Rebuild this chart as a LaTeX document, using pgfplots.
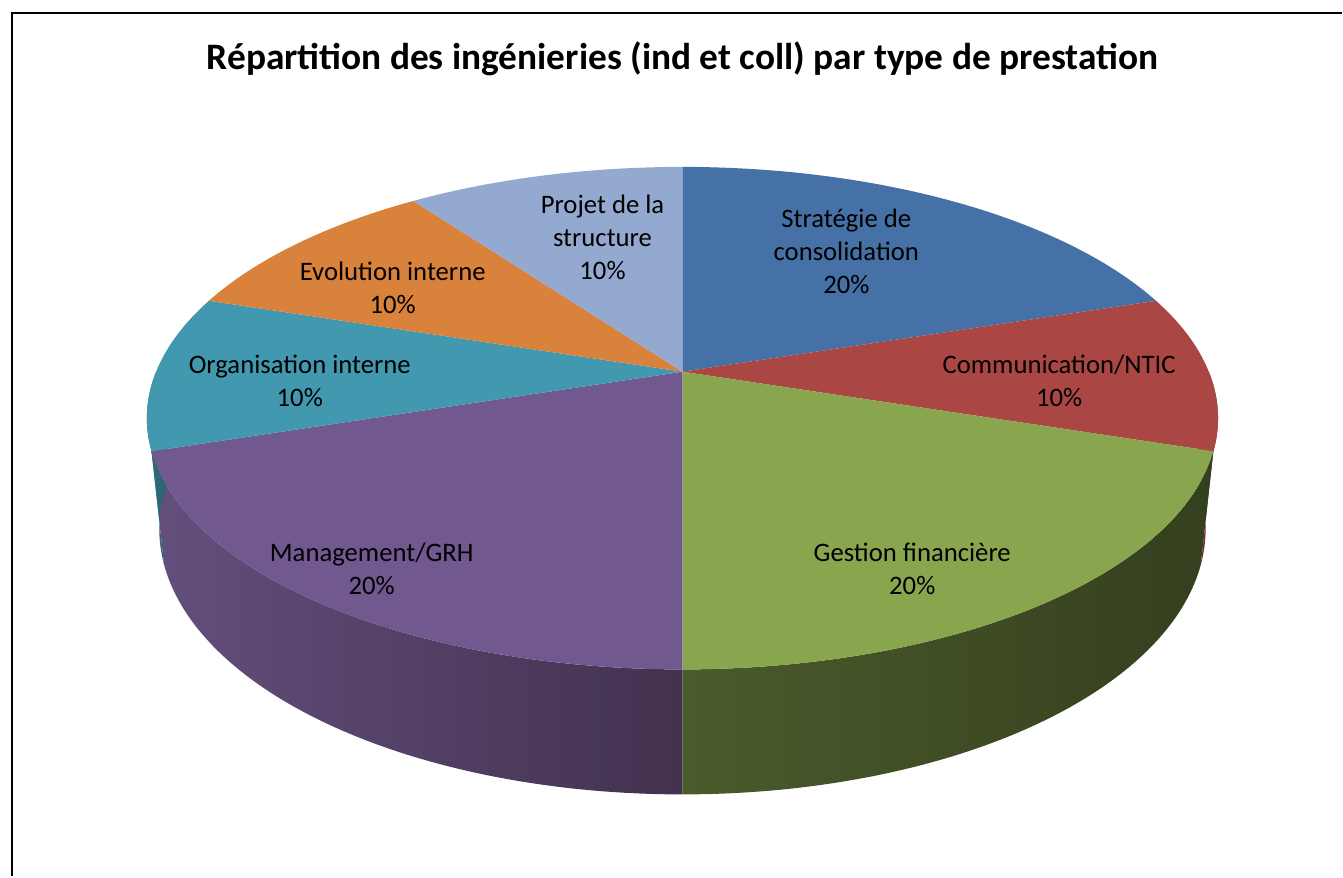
\documentclass[border=0pt]{standalone}
\usepackage{pgfplots}
\pgfplotsset{compat=1.18}
\usepackage{pgfplotstable}
\usepackage{fontspec}
\setmainfont{Carlito}

\definecolor{cStrat}{HTML}{4571A6}
\definecolor{cComm}{HTML}{AA4643}
\definecolor{cGest}{HTML}{89A54E}
\definecolor{cMan}{HTML}{71588F}
\definecolor{cOrg}{HTML}{4198AF}
\definecolor{cEvo}{HTML}{D9823B}
\definecolor{cProj}{HTML}{93A9CF}
\definecolor{sCommL}{HTML}{7A302E}
\definecolor{sCommR}{HTML}{6A2826}
\definecolor{sGestL}{HTML}{4B5B2C}
\definecolor{sGestR}{HTML}{343F1E}
\definecolor{sManL}{HTML}{634F7C}
\definecolor{sManR}{HTML}{42324F}
\definecolor{sOrgL}{HTML}{2F7080}
\definecolor{sOrgR}{HTML}{2A6270}

% share of each slice (percent), clockwise from 12 o'clock
\pgfplotstableread{
slice value
Strategie 20
Communication 10
Gestion 20
Management 20
Organisation 10
Evolution 10
Projet 10
}\piedata

\def\pieCum{0}%
\pgfplotsforeachungrouped \i in {0,...,6}{%
  \pgfplotstablegetelem{\i}{value}\of\piedata
  \pgfmathsetmacro\pieNext{\pieCum+3.6*\pgfplotsretval}%
  \expandafter\let\csname pieS\i\endcsname\pieCum
  \expandafter\let\csname pieE\i\endcsname\pieNext
  \pgfmathsetmacro\pieA{max(\pieCum,90)}%
  \pgfmathsetmacro\pieB{min(\pieNext,270)}%
  \expandafter\let\csname pieA\i\endcsname\pieA
  \expandafter\let\csname pieB\i\endcsname\pieB
  \let\pieCum\pieNext
}%
\newcommand*\PS[1]{\csname pieS#1\endcsname}
\newcommand*\PE[1]{\csname pieE#1\endcsname}
\newcommand*\PA[1]{\csname pieA#1\endcsname}
\newcommand*\PB[1]{\csname pieB#1\endcsname}

\newcommand\topslice[2]{%
  \addplot[draw=none, fill=#2, domain=\PS{#1}:\PE{#1}, samples=90]
    ({tx(x)},{ty(x)}) -- (axis cs:683,372) -- cycle;}
\newcommand\sideslice[3]{%
  \addplot[draw=none, left color=#2, right color=#3,
    samples at={0,0.0125,...,0.99,1,1.00001,1.0125,...,1.99,2}]
    ({(x<=1) ? (tx(\PA{#1}+(\PB{#1}-\PA{#1})*x)) : (bx(\PB{#1}-(\PB{#1}-\PA{#1})*(x-1)))},
     {(x<=1) ? (ty(\PA{#1}+(\PB{#1}-\PA{#1})*x)) : (by(\PB{#1}-(\PB{#1}-\PA{#1})*(x-1)))}) -- cycle;}

\begin{document}
\begin{tikzpicture}
\begin{axis}[
  anchor=south west, at={(0,0)},
  width=1343pt, height=877pt, scale only axis,
  xmin=0, xmax=1343, ymin=0, ymax=877, y dir=reverse,
  hide axis, clip=false,
  declare function={
    tx(\p)=683+2527*sin(\p)/(4.797+0.887*cos(\p));
    ty(\p)=372-1165*cos(\p)/(4.797+0.887*cos(\p));
    bx(\p)=683+2527*sin(\p)/(4.907+0.887*cos(\p));
    by(\p)=372+(535.7-1165*cos(\p))/(4.907+0.887*cos(\p));
  },
]
\path (axis cs:0,0) rectangle (axis cs:1343,877);
% sides
\sideslice{1}{sCommL}{sCommR}
\sideslice{2}{sGestL}{sGestR}
\sideslice{3}{sManL}{sManR}
\sideslice{4}{sOrgL}{sOrgR}
% top face
\topslice{0}{cStrat}
\topslice{1}{cComm}
\topslice{2}{cGest}
\topslice{3}{cMan}
\topslice{4}{cOrg}
\topslice{5}{cEvo}
\topslice{6}{cProj}
% frame
\draw[line width=2.2pt, black] (axis cs:12,877) -- (axis cs:12,12.8) -- (axis cs:1343,12.8);
% title
\node[anchor=base, font=\fontsize{37.4}{44}\selectfont\bfseries] at (axis cs:683,70)
  {Répartition des ingénieries (ind et coll) par type de prestation};
% labels
\begin{scope}[every node/.style={align=center, font=\fontsize{26.7}{33}\selectfont, text=black}]
\node at (axis cs:603,238) {Projet de la\\structure\\10\%};
\node at (axis cs:847,252) {Stratégie de\\consolidation\\20\%};
\node at (axis cs:1060,381) {Communication/NTIC\\10\%};
\node at (axis cs:913,569) {Gestion financière\\20\%};
\node at (axis cs:372,569) {Management/GRH\\20\%};
\node at (axis cs:300,381) {Organisation interne\\10\%};
\node at (axis cs:393,288) {Evolution interne\\10\%};
\end{scope}
\end{axis}
\end{tikzpicture}
\end{document}
